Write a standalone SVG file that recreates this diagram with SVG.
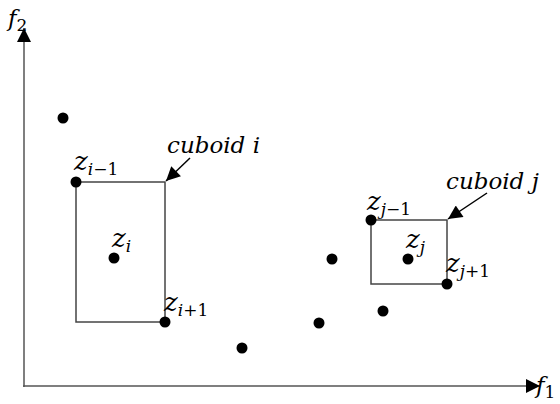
<svg xmlns="http://www.w3.org/2000/svg" width="560" height="404" viewBox="0 0 560 404">
<style>
.ax{stroke:#555;stroke-width:1.5;fill:none}
.box{stroke:#444;stroke-width:1.5;fill:none}
.pt{fill:#000}
.t{font-family:"DejaVu Serif","Liberation Serif",serif;font-style:italic;font-size:23px;fill:#000}
.z{font-size:26px}
.s{font-family:"DejaVu Serif","Liberation Serif",serif;font-style:italic;font-size:17px;fill:#000}
.n{font-style:normal}
</style>
<defs>
<marker id="ah" viewBox="0 0 10 10" refX="10" refY="5" markerWidth="18" markerHeight="14" markerUnits="userSpaceOnUse" orient="auto">
<path d="M0,0 L10,5 L0,10 z" fill="#000"/>
</marker>
</defs>
<g id="axes">
<path class="ax" d="M24,387 L24,28" marker-end="url(#ah)"/>
<path class="ax" d="M23,386 L540,386" marker-end="url(#ah)"/>
<text class="t" x="8" y="26">f<tspan class="s n" dy="5">2</tspan></text>
<text class="t" x="536" y="393">f<tspan class="s n" dy="5">1</tspan></text>
</g>
<g id="cuboid-i">
<rect class="box" x="76" y="182" width="89" height="140"/>
<text class="t" x="167" y="153">cuboid i</text>
</g>
<g id="cuboid-j">
<rect class="box" x="371" y="220" width="76" height="64"/>
<text class="t" x="446" y="189">cuboid j</text>
</g>
<g id="connectors">
<path d="M190,158 L166,181" stroke="#000" stroke-width="1.5" marker-end="url(#ah)"/>
<path d="M487,193 L448,219" stroke="#000" stroke-width="1.5" marker-end="url(#ah)"/>
</g>
<g id="points">
<circle class="pt" cx="63" cy="118" r="5.5"/>
<circle class="pt" cx="76" cy="182" r="5.5"/>
<circle class="pt" cx="114" cy="258" r="5.5"/>
<circle class="pt" cx="165" cy="322" r="5.5"/>
<circle class="pt" cx="242" cy="348" r="5.5"/>
<circle class="pt" cx="319" cy="323" r="5.5"/>
<circle class="pt" cx="332" cy="259" r="5.5"/>
<circle class="pt" cx="383" cy="311" r="5.5"/>
<circle class="pt" cx="371" cy="220" r="5.5"/>
<circle class="pt" cx="408" cy="259" r="5.5"/>
<circle class="pt" cx="447" cy="284" r="5.5"/>
</g>
<g id="labels">
<text class="t z" x="74" y="170">z<tspan class="s" dy="5">i<tspan class="n">−1</tspan></tspan></text>
<text class="t z" x="112" y="247">z<tspan class="s" dy="5">i</tspan></text>
<text class="t z" x="164" y="311">z<tspan class="s" dy="5">i<tspan class="n">+1</tspan></tspan></text>
<text class="t z" x="367" y="210">z<tspan class="s" dy="5">j<tspan class="n">−1</tspan></tspan></text>
<text class="t z" x="406" y="248">z<tspan class="s" dy="5">j</tspan></text>
<text class="t z" x="446" y="272">z<tspan class="s" dy="5">j<tspan class="n">+1</tspan></tspan></text>
</g>
</svg>
